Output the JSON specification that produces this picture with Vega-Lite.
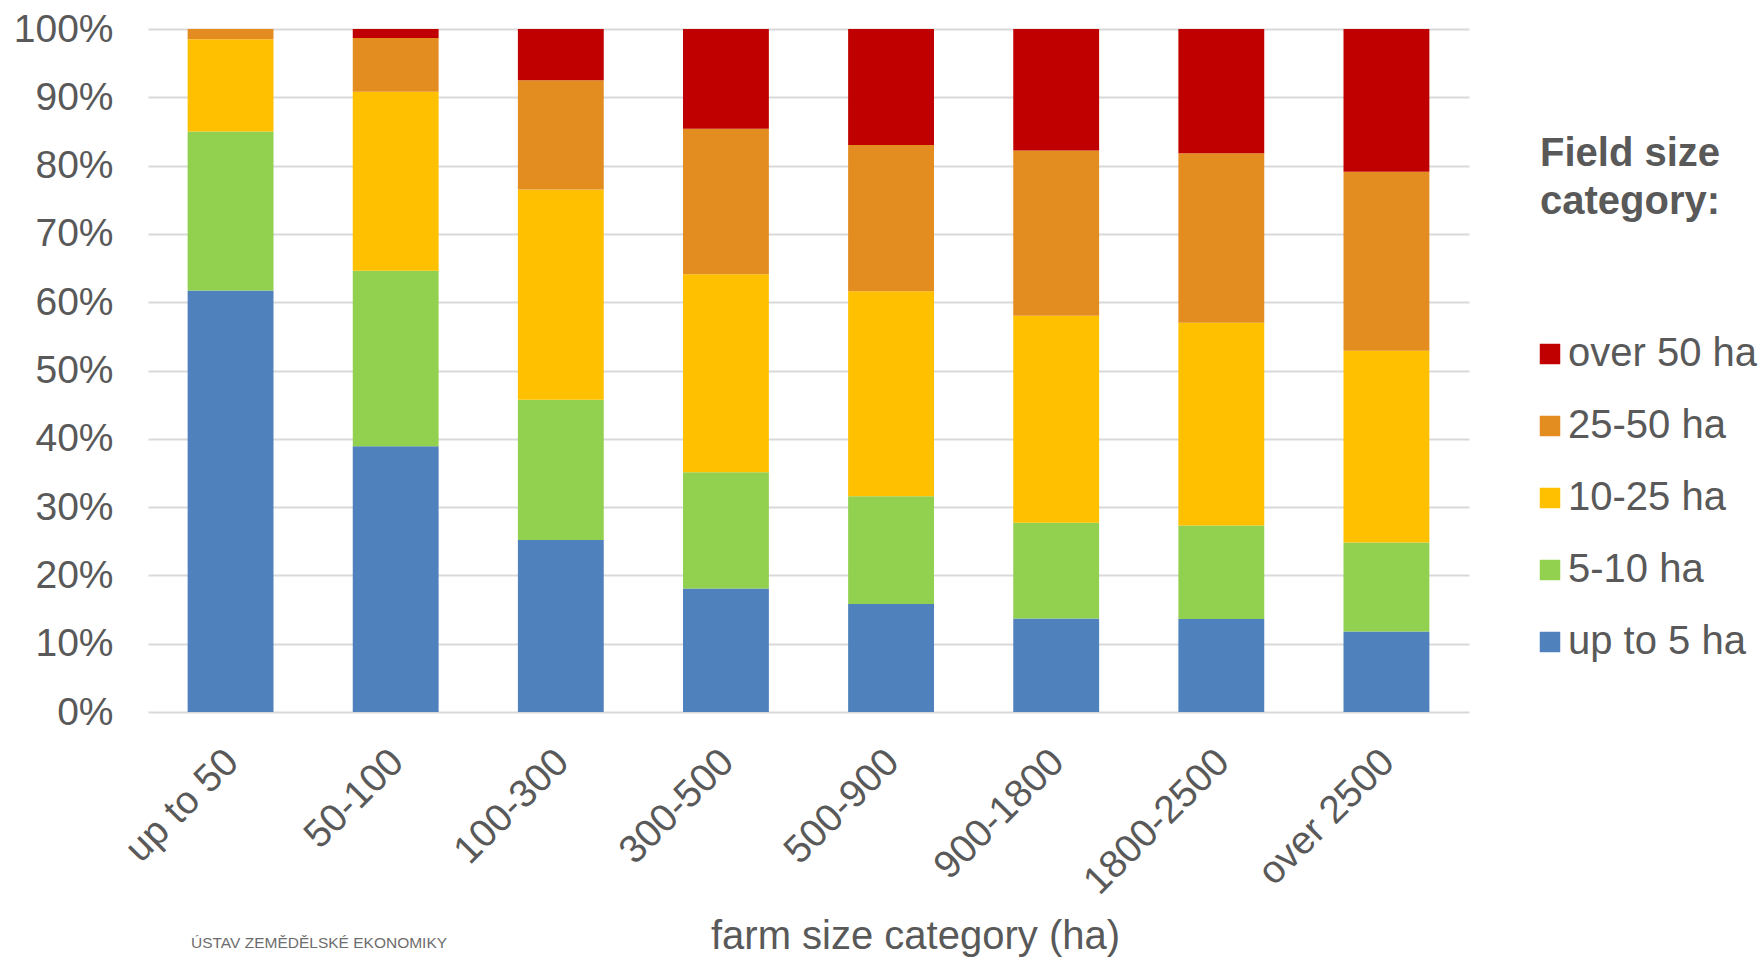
{
  "$schema": "https://vega.github.io/schema/vega-lite/v6.json",
  "width": 1321,
  "height": 683,
  "autosize": {"type": "none"},
  "padding": {"left": 148, "top": 29, "right": 295, "bottom": 245},
  "background": "white",
  "config": {
    "font": "Liberation Sans",
    "view": {"stroke": null},
    "title": {"color": "#595959"}
  },
  "title": {
    "text": "ÚSTAV ZEMĚDĚLSKÉ EKONOMIKY",
    "orient": "bottom",
    "anchor": "start",
    "frame": "group",
    "fontSize": 15.5,
    "fontWeight": "normal",
    "color": "#6d6d6d",
    "dx": 43,
    "offset": -20
  },
  "datasets": {
    "shares": [
      {"farm": "up to 50", "field": "up to 5 ha", "k": 1, "share": 61.7},
      {"farm": "up to 50", "field": "5-10 ha", "k": 2, "share": 23.3},
      {"farm": "up to 50", "field": "10-25 ha", "k": 3, "share": 13.5},
      {"farm": "up to 50", "field": "25-50 ha", "k": 4, "share": 1.5},
      {"farm": "up to 50", "field": "over 50 ha", "k": 5, "share": 0},
      {"farm": "50-100", "field": "up to 5 ha", "k": 1, "share": 38.9},
      {"farm": "50-100", "field": "5-10 ha", "k": 2, "share": 25.7},
      {"farm": "50-100", "field": "10-25 ha", "k": 3, "share": 26.2},
      {"farm": "50-100", "field": "25-50 ha", "k": 4, "share": 7.9},
      {"farm": "50-100", "field": "over 50 ha", "k": 5, "share": 1.3},
      {"farm": "100-300", "field": "up to 5 ha", "k": 1, "share": 25.2},
      {"farm": "100-300", "field": "5-10 ha", "k": 2, "share": 20.5},
      {"farm": "100-300", "field": "10-25 ha", "k": 3, "share": 30.8},
      {"farm": "100-300", "field": "25-50 ha", "k": 4, "share": 16.0},
      {"farm": "100-300", "field": "over 50 ha", "k": 5, "share": 7.5},
      {"farm": "300-500", "field": "up to 5 ha", "k": 1, "share": 18.1},
      {"farm": "300-500", "field": "5-10 ha", "k": 2, "share": 17.0},
      {"farm": "300-500", "field": "10-25 ha", "k": 3, "share": 29.0},
      {"farm": "300-500", "field": "25-50 ha", "k": 4, "share": 21.3},
      {"farm": "300-500", "field": "over 50 ha", "k": 5, "share": 14.6},
      {"farm": "500-900", "field": "up to 5 ha", "k": 1, "share": 15.8},
      {"farm": "500-900", "field": "5-10 ha", "k": 2, "share": 15.8},
      {"farm": "500-900", "field": "10-25 ha", "k": 3, "share": 30.0},
      {"farm": "500-900", "field": "25-50 ha", "k": 4, "share": 21.4},
      {"farm": "500-900", "field": "over 50 ha", "k": 5, "share": 17.0},
      {"farm": "900-1800", "field": "up to 5 ha", "k": 1, "share": 13.7},
      {"farm": "900-1800", "field": "5-10 ha", "k": 2, "share": 14.0},
      {"farm": "900-1800", "field": "10-25 ha", "k": 3, "share": 30.3},
      {"farm": "900-1800", "field": "25-50 ha", "k": 4, "share": 24.2},
      {"farm": "900-1800", "field": "over 50 ha", "k": 5, "share": 17.8},
      {"farm": "1800-2500", "field": "up to 5 ha", "k": 1, "share": 13.6},
      {"farm": "1800-2500", "field": "5-10 ha", "k": 2, "share": 13.7},
      {"farm": "1800-2500", "field": "10-25 ha", "k": 3, "share": 29.7},
      {"farm": "1800-2500", "field": "25-50 ha", "k": 4, "share": 24.8},
      {"farm": "1800-2500", "field": "over 50 ha", "k": 5, "share": 18.2},
      {"farm": "over 2500", "field": "up to 5 ha", "k": 1, "share": 11.8},
      {"farm": "over 2500", "field": "5-10 ha", "k": 2, "share": 13.0},
      {"farm": "over 2500", "field": "10-25 ha", "k": 3, "share": 28.1},
      {"farm": "over 2500", "field": "25-50 ha", "k": 4, "share": 26.2},
      {"farm": "over 2500", "field": "over 50 ha", "k": 5, "share": 20.9}
    ]
  },
  "data": {"name": "shares"},
  "mark": {"type": "bar", "strokeWidth": 0},
  "encoding": {
    "x": {
      "field": "farm",
      "type": "nominal",
      "sort": ["up to 50", "50-100", "100-300", "300-500", "500-900", "900-1800", "1800-2500", "over 2500"],
      "scale": {"paddingInner": 0.48, "paddingOuter": 0.24},
      "axis": {
        "title": "farm size category (ha)",
        "titleFontSize": 40,
        "titleFontWeight": "normal",
        "titleColor": "#595959",
        "titleX": 767,
        "titleY": 224,
        "titleBaseline": "middle",
        "labelAngle": -45,
        "labelFontSize": 39,
        "labelColor": "#595959",
        "labelPadding": 30,
        "labelOffset": -12,
        "labelLimit": 400,
        "ticks": false,
        "domain": false,
        "grid": false
      }
    },
    "y": {
      "field": "share",
      "type": "quantitative",
      "stack": "zero",
      "scale": {"domain": [0, 100], "nice": false},
      "axis": {
        "title": null,
        "values": [0, 10, 20, 30, 40, 50, 60, 70, 80, 90, 100],
        "labelExpr": "datum.value + '%'",
        "labelFontSize": 39,
        "labelColor": "#595959",
        "labelPadding": 35,
        "ticks": false,
        "domain": false,
        "grid": true,
        "gridColor": "#D9D9D9",
        "gridWidth": 2
      }
    },
    "order": {"field": "k", "type": "quantitative", "sort": "ascending"},
    "color": {
      "field": "field",
      "type": "nominal",
      "scale": {
        "domain": ["over 50 ha", "25-50 ha", "10-25 ha", "5-10 ha", "up to 5 ha"],
        "range": ["#C00000", "#E38C1F", "#FFC000", "#92D050", "#4F81BD"]
      },
      "legend": {
        "orient": "none",
        "legendX": 1392,
        "legendY": 105,
        "title": ["Field size", "category:"],
        "titleFontSize": 40,
        "titleFontWeight": "bold",
        "titleColor": "#595959",
        "titleLineHeight": 48,
        "titlePadding": 112,
        "titleLimit": 400,
        "labelFontSize": 40,
        "labelColor": "#595959",
        "labelOffset": -2,
        "symbolOffset": -10,
        "symbolType": "square",
        "symbolSize": 420,
        "symbolStrokeWidth": 0,
        "rowPadding": 32,
        "labelLimit": 400
      }
    }
  }
}
